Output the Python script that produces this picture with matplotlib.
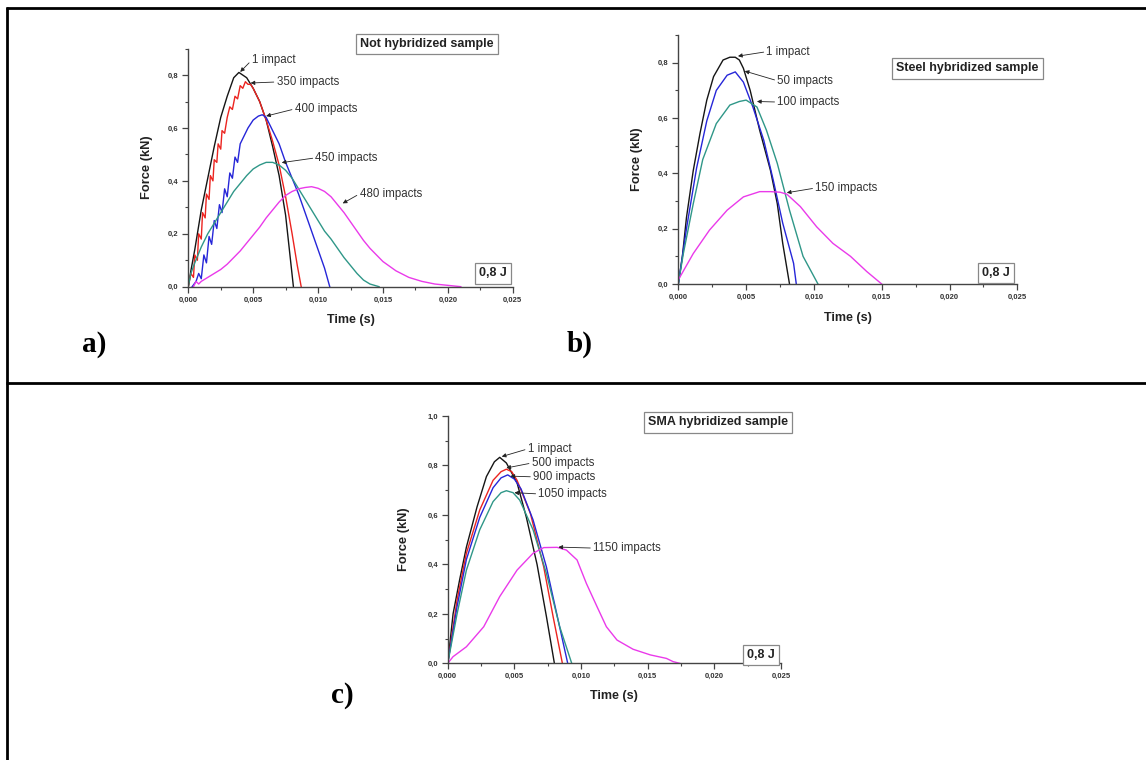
import matplotlib
matplotlib.use('Agg')
import matplotlib.pyplot as plt
from matplotlib.ticker import MultipleLocator, FuncFormatter
from matplotlib.lines import Line2D

plt.rcParams['font.family'] = ['Liberation Sans', 'DejaVu Sans']

# ---- panel a) not hybridized sample ----
a_labels = ['1 impact', '350 impacts', '400 impacts', '450 impacts', '480 impacts']
t_a1 = [0, 0.0002, 0.0005, 0.001, 0.0015, 0.002, 0.0025, 0.003, 0.0035, 0.0039,
        0.0045, 0.005, 0.0055, 0.006, 0.0065, 0.007, 0.0075, 0.0081]
f_a1 = [0, 0.06, 0.14, 0.29, 0.41, 0.53, 0.64, 0.72, 0.79, 0.81,
        0.79, 0.75, 0.70, 0.63, 0.53, 0.42, 0.27, 0.0]
t_a2 = [0, 0.0002, 0.0004, 0.0005, 0.0007, 0.0008, 0.001, 0.0011, 0.0013, 0.0014,
        0.0016, 0.0017, 0.0019, 0.002, 0.0022, 0.0023, 0.0025, 0.0026, 0.0028, 0.003,
        0.0032, 0.0034, 0.0036, 0.0038, 0.004, 0.0042, 0.0044, 0.0046, 0.0048, 0.005,
        0.0055, 0.006, 0.0065, 0.007, 0.0075, 0.008, 0.0084, 0.0087]
f_a2 = [0, 0.05, 0.035, 0.12, 0.10, 0.20, 0.18, 0.28, 0.26, 0.35,
        0.33, 0.42, 0.40, 0.48, 0.47, 0.54, 0.52, 0.59, 0.58, 0.64,
        0.68, 0.67, 0.72, 0.71, 0.76, 0.75, 0.775, 0.765, 0.765, 0.75,
        0.70, 0.63, 0.55, 0.46, 0.34, 0.2, 0.08, 0]
t_a3 = [0.0003, 0.0006, 0.0008, 0.001, 0.0012, 0.0014, 0.0016, 0.0018, 0.002, 0.0022,
        0.0024, 0.0026, 0.0028, 0.003, 0.0032, 0.0034, 0.0036, 0.0038, 0.004, 0.0043,
        0.0046, 0.005, 0.0054, 0.0057, 0.006, 0.0065, 0.007, 0.0075, 0.008, 0.0085,
        0.009, 0.0095, 0.01, 0.0105, 0.0109]
f_a3 = [0, 0.02, 0.05, 0.03, 0.12, 0.09, 0.19, 0.16, 0.25, 0.22,
        0.31, 0.28, 0.37, 0.34, 0.43, 0.41, 0.49, 0.47, 0.54, 0.57,
        0.60, 0.63, 0.645, 0.65, 0.64, 0.59, 0.54, 0.47, 0.41, 0.35,
        0.28, 0.21, 0.14, 0.07, 0]
t_a4 = [0, 0.0002, 0.0005, 0.001, 0.0015, 0.002, 0.0025, 0.003, 0.0035, 0.004,
        0.0045, 0.005, 0.0055, 0.006, 0.0065, 0.007, 0.0075, 0.008, 0.0085, 0.009,
        0.0095, 0.01, 0.0105, 0.011, 0.0115, 0.012, 0.0125, 0.013, 0.0135, 0.014, 0.0147]
f_a4 = [0, 0.05, 0.09, 0.15, 0.2, 0.24, 0.28, 0.32, 0.36, 0.39,
        0.42, 0.445, 0.46, 0.47, 0.47, 0.46, 0.44, 0.41, 0.37, 0.33,
        0.29, 0.25, 0.21, 0.18, 0.145, 0.11, 0.08, 0.05, 0.025, 0.01, 0]
t_a5 = [0.0004, 0.0006, 0.0008, 0.001, 0.0015, 0.002, 0.0025, 0.003, 0.0035, 0.004,
        0.0045, 0.005, 0.0055, 0.006, 0.0065, 0.007, 0.0075, 0.008, 0.0085, 0.009,
        0.0095, 0.01, 0.0105, 0.011, 0.0115, 0.012, 0.0125, 0.013, 0.0135, 0.014,
        0.0145, 0.015, 0.016, 0.017, 0.018, 0.019, 0.02, 0.021]
f_a5 = [0, 0.02, 0.01, 0.02, 0.035, 0.05, 0.065, 0.085, 0.11, 0.135,
        0.165, 0.195, 0.225, 0.26, 0.29, 0.32, 0.345, 0.36, 0.37, 0.375,
        0.378, 0.372, 0.36, 0.34, 0.31, 0.28, 0.245, 0.21, 0.175, 0.145,
        0.12, 0.095, 0.06, 0.035, 0.02, 0.01, 0.005, 0]

# ---- panel b) steel hybridized sample ----
b_labels = ['1 impact', '50 impacts', '100 impacts', '150 impacts']
t_b1 = [0, 0.0003, 0.0006, 0.0011, 0.0016, 0.0021, 0.0026, 0.0033, 0.0038, 0.0042,
        0.0045, 0.0048, 0.0053, 0.006, 0.0068, 0.0073, 0.0077, 0.0082]
f_b1 = [0, 0.1, 0.24, 0.41, 0.545, 0.665, 0.75, 0.81, 0.82, 0.82,
        0.81, 0.78, 0.70, 0.556, 0.41, 0.29, 0.147, 0]
t_b2 = [0, 0.0006, 0.00135, 0.0021, 0.0028, 0.0036, 0.0042, 0.0048, 0.0055, 0.0063,
        0.007, 0.0077, 0.0085, 0.0087]
f_b2 = [0, 0.2, 0.42, 0.59, 0.70, 0.755, 0.767, 0.73, 0.64, 0.52,
        0.376, 0.22, 0.075, 0]
t_b3 = [0, 0.00037, 0.0011, 0.0018, 0.0028, 0.0038, 0.0045, 0.005, 0.0058, 0.0065,
        0.0073, 0.0082, 0.0092, 0.0103]
f_b3 = [0, 0.11, 0.29, 0.45, 0.58, 0.647, 0.66, 0.665, 0.64, 0.556,
        0.436, 0.267, 0.1, 0]
t_b4 = [0, 0.0011, 0.0023, 0.0036, 0.0048, 0.006, 0.0068, 0.0075, 0.008, 0.009,
        0.0102, 0.0114, 0.0127, 0.0139, 0.015]
f_b4 = [0.015, 0.11, 0.195, 0.267, 0.315, 0.334, 0.334, 0.332, 0.325, 0.28,
        0.207, 0.147, 0.1, 0.045, 0]

# ---- panel c) SMA hybridized sample ----
c_labels = ['1 impact', '500 impacts', '900 impacts', '1050 impacts', '1150 impacts']
t_c1 = [0, 0.0004, 0.0009, 0.0014, 0.0022, 0.0029, 0.0035, 0.0039, 0.0044, 0.0052,
        0.0059, 0.0067, 0.0074, 0.008]
f_c1 = [0, 0.2, 0.34, 0.47, 0.633, 0.755, 0.815, 0.833, 0.81, 0.73,
        0.59, 0.40, 0.19, 0]
t_c2 = [0, 0.0007, 0.0014, 0.0024, 0.0034, 0.004, 0.0044, 0.0048, 0.0052, 0.0062,
        0.0072, 0.0079, 0.0086]
f_c2 = [0, 0.256, 0.445, 0.62, 0.74, 0.775, 0.785, 0.775, 0.74, 0.606,
        0.39, 0.19, 0]
t_c3 = [0, 0.0007, 0.0014, 0.0024, 0.0034, 0.004, 0.0045, 0.005, 0.0055, 0.0064,
        0.0074, 0.0083, 0.009]
f_c3 = [0, 0.23, 0.42, 0.59, 0.71, 0.75, 0.762, 0.745, 0.705, 0.58,
        0.39, 0.17, 0]
t_c4 = [0, 0.0007, 0.0014, 0.0024, 0.0034, 0.004, 0.0044, 0.0049, 0.0054, 0.0064,
        0.0074, 0.0084, 0.0093]
f_c4 = [0, 0.2, 0.377, 0.54, 0.654, 0.69, 0.698, 0.69, 0.66, 0.54,
        0.364, 0.148, 0]
t_c5 = [0, 0.0004, 0.0014, 0.0027, 0.0039, 0.0052, 0.0064, 0.0072, 0.0082, 0.0089,
        0.0097, 0.0104, 0.0112, 0.0119, 0.0127, 0.0139, 0.0152, 0.0164, 0.0169, 0.0174]
f_c5 = [0, 0.027, 0.067, 0.148, 0.27, 0.377, 0.445, 0.468, 0.469, 0.458,
        0.418, 0.323, 0.229, 0.148, 0.094, 0.057, 0.034, 0.02, 0.007, 0]

# colours
black = '#151515'
red = '#ec2420'
blue = '#2626d8'
teal = '#2f9788'
magenta = '#ea3aea'

fig = plt.figure(figsize=(11.46, 7.6), dpi=100)


def setup_axes(rect, ytop, ymax_tick, xlab_y, ylab_x):
    ax = fig.add_axes(rect)
    ax.set_xlim(0, 0.025)
    ax.set_ylim(0, ytop)
    ax.spines['top'].set_visible(False)
    ax.spines['right'].set_visible(False)
    for s in ['left', 'bottom']:
        ax.spines[s].set_color('#444444')
        ax.spines[s].set_linewidth(1.0)
    ax.set_xticks([0, 0.005, 0.010, 0.015, 0.020, 0.025])
    ax.set_yticks([i * 0.2 for i in range(int(round(ymax_tick / 0.2)) + 1)])
    ax.xaxis.set_minor_locator(MultipleLocator(0.0025))
    ax.yaxis.set_minor_locator(MultipleLocator(0.1))
    ax.xaxis.set_major_formatter(FuncFormatter(lambda v, p: f"{v:.3f}".replace('.', ',')))
    ax.yaxis.set_major_formatter(FuncFormatter(lambda v, p: f"{v:.1f}".replace('.', ',')))
    ax.tick_params(which='major', direction='out', length=4, width=0.9, color='#444444',
                   labelsize=5.5, labelcolor='#333333', pad=3)
    ax.tick_params(which='minor', direction='out', length=2.5, width=0.8, color='#444444')
    plt.setp(ax.get_xticklabels() + ax.get_yticklabels(), fontweight='bold')
    ax.set_xlabel('Time (s)', fontsize=9, fontweight='bold', color='#222222')
    ax.set_ylabel('Force (kN)', fontsize=9.3, fontweight='bold', color='#222222')
    ax.xaxis.label.set_va('center')
    ax.yaxis.label.set_va('center')
    ax.xaxis.set_label_coords(0.5, xlab_y)
    ax.yaxis.set_label_coords(ylab_x, 0.5)
    ax.patch.set_alpha(0)
    return ax


def note(ax, text, xy, xytext):
    ax.annotate(text, xy=xy, xytext=xytext, fontsize=8.3, color='#333333',
                ha='left', va='center',
                arrowprops=dict(arrowstyle='-|>', lw=0.6, color='#222222',
                                mutation_scale=6, shrinkA=0, shrinkB=0,
                                relpos=(0, 0.5)))


def boxed(ax, text, x, y, size):
    ax.text(x, y, text, transform=ax.transAxes, fontsize=size, fontweight='bold',
            color='#222222', ha='center', va='center_baseline', clip_on=False,
            bbox=dict(boxstyle='square,pad=0.35', fc='white', ec='#888888', lw=0.9))


lw = 1.0

# panel a
ax1 = setup_axes([0.1643, 0.6228, 0.2831, 0.3132], 0.9, 0.8, -0.139, -0.128)
ax1.plot(t_a1, f_a1, color=black, lw=lw)
ax1.plot(t_a2, f_a2, color=red, lw=lw)
ax1.plot(t_a3, f_a3, color=blue, lw=lw)
ax1.plot(t_a4, f_a4, color=teal, lw=lw)
ax1.plot(t_a5, f_a5, color=magenta, lw=lw)
note(ax1, a_labels[0], (0.0040, 0.812), (0.0049, 0.857))
note(ax1, a_labels[1], (0.0048, 0.77), (0.0068, 0.774))
note(ax1, a_labels[2], (0.0060, 0.645), (0.0082, 0.672))
note(ax1, a_labels[3], (0.0072, 0.469), (0.0098, 0.487))
note(ax1, a_labels[4], (0.0119, 0.315), (0.0132, 0.351))
boxed(ax1, 'Not hybridized sample', 0.736, 1.026, 9)
boxed(ax1, '0,8 J', 0.939, 0.062, 9)

# panel b
ax2 = setup_axes([0.5919, 0.6263, 0.2958, 0.3275], 0.9, 0.8, -0.137, -0.123)
ax2.plot(t_b1, f_b1, color=black, lw=lw)
ax2.plot(t_b2, f_b2, color=blue, lw=lw)
ax2.plot(t_b3, f_b3, color=teal, lw=lw)
ax2.plot(t_b4, f_b4, color=magenta, lw=lw)
note(ax2, b_labels[0], (0.0044, 0.824), (0.0065, 0.84))
note(ax2, b_labels[1], (0.0049, 0.77), (0.0073, 0.735))
note(ax2, b_labels[2], (0.0058, 0.66), (0.0073, 0.658))
note(ax2, b_labels[3], (0.0080, 0.33), (0.0101, 0.347))
boxed(ax2, 'Steel hybridized sample', 0.852, 0.872, 9)
boxed(ax2, '0,8 J', 0.937, 0.05, 9)

# panel c
ax3 = setup_axes([0.3907, 0.1272, 0.2908, 0.3254], 1.0, 1.0, -0.133, -0.131)
ax3.plot(t_c1, f_c1, color=black, lw=lw)
ax3.plot(t_c2, f_c2, color=red, lw=lw)
ax3.plot(t_c3, f_c3, color=blue, lw=lw)
ax3.plot(t_c4, f_c4, color=teal, lw=lw)
ax3.plot(t_c5, f_c5, color=magenta, lw=lw)
note(ax3, c_labels[0], (0.00405, 0.836), (0.0060, 0.867))
note(ax3, c_labels[1], (0.0044, 0.79), (0.0063, 0.81))
note(ax3, c_labels[2], (0.0047, 0.757), (0.0064, 0.754))
note(ax3, c_labels[3], (0.0050, 0.69), (0.0068, 0.685))
note(ax3, c_labels[4], (0.0083, 0.47), (0.0109, 0.466))
boxed(ax3, 'SMA hybridized sample', 0.811, 0.98, 9)
boxed(ax3, '0,8 J', 0.94, 0.04, 9)

# outer table frame
W, H = 1146.0, 760.0
frame = dict(color='black', lw=2.0, solid_capstyle='butt')
fig.add_artist(Line2D([7 / W, 7 / W], [0, 1 - 7 / H], **frame))
fig.add_artist(Line2D([6 / W, 1], [1 - 8 / H, 1 - 8 / H], **frame))
fig.add_artist(Line2D([6 / W, 1], [1 - 383 / H, 1 - 383 / H], **frame))

# panel letters
serif = ['Liberation Serif', 'DejaVu Serif']
fig.text(82 / W, 1 - 352 / H, 'a)', fontsize=21, fontweight='bold', family=serif)
fig.text(567 / W, 1 - 352 / H, 'b)', fontsize=21, fontweight='bold', family=serif)
fig.text(331 / W, 1 - 703 / H, 'c)', fontsize=21, fontweight='bold', family=serif)

fig.savefig('out.png', dpi=100)
